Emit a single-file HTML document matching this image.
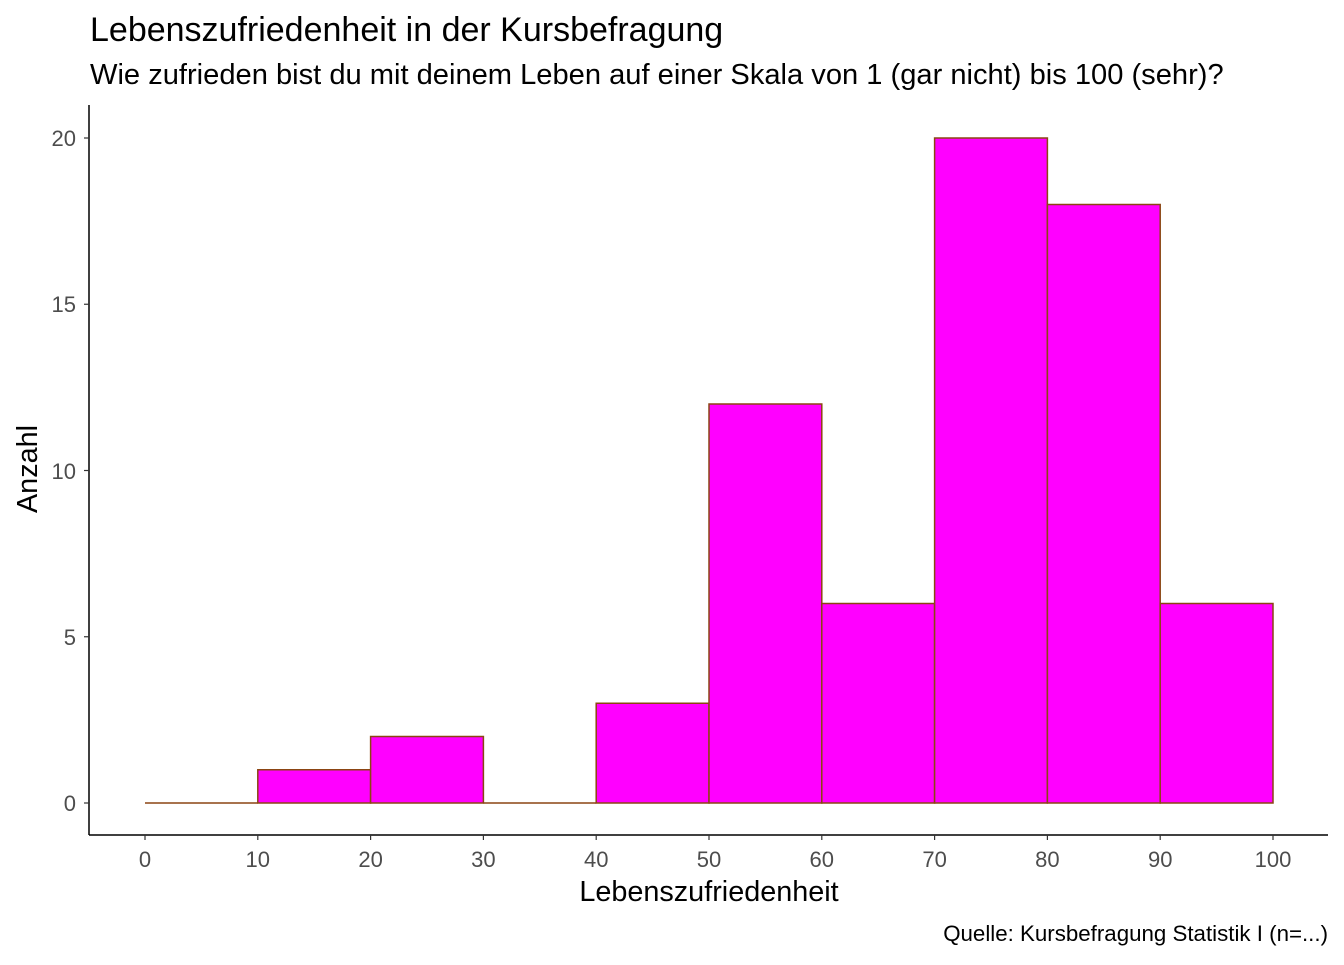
<!DOCTYPE html>
<html><head><meta charset="utf-8"><style>
body{margin:0;background:#fff}
svg text{font-family:"Liberation Sans",Arial,sans-serif}
</style></head><body>
<svg width="1344" height="960" xmlns="http://www.w3.org/2000/svg">
<rect width="1344" height="960" fill="#fff"/>
<text x="90" y="41" font-size="34" fill="#000">Lebenszufriedenheit in der Kursbefragung</text>
<text x="90" y="84" font-size="29.1" fill="#000">Wie zufrieden bist du mit deinem Leben auf einer Skala von 1 (gar nicht) bis 100 (sehr)?</text>
<g fill="#FF00FF" stroke="#8B4513" stroke-width="1.5">
<rect x="257.8" y="769.75" width="112.8" height="33.25"/>
<rect x="370.6" y="736.5" width="112.8" height="66.5"/>
<rect x="596.2" y="703.25" width="112.8" height="99.75"/>
<rect x="709" y="404" width="112.8" height="399"/>
<rect x="821.8" y="603.5" width="112.8" height="199.5"/>
<rect x="934.6" y="138" width="112.8" height="665"/>
<rect x="1047.4" y="204.5" width="112.8" height="598.5"/>
<rect x="1160.2" y="603.5" width="112.8" height="199.5"/>
<line x1="145" y1="803" x2="257.8" y2="803"/>
<line x1="483.4" y1="803" x2="596.2" y2="803"/>
</g>
<g stroke="#000" stroke-width="1.5" fill="none">
<line x1="89" y1="105" x2="89" y2="835"/>
<line x1="89" y1="835" x2="1328" y2="835"/>
</g>
<g stroke="#333" stroke-width="1.2">
<line x1="84" y1="803" x2="89" y2="803"/><line x1="84" y1="636.75" x2="89" y2="636.75"/>
<line x1="84" y1="470.5" x2="89" y2="470.5"/><line x1="84" y1="304.25" x2="89" y2="304.25"/>
<line x1="84" y1="138" x2="89" y2="138"/>
<line x1="145" y1="835" x2="145" y2="840"/><line x1="257.8" y1="835" x2="257.8" y2="840"/>
<line x1="370.6" y1="835" x2="370.6" y2="840"/><line x1="483.4" y1="835" x2="483.4" y2="840"/>
<line x1="596.2" y1="835" x2="596.2" y2="840"/><line x1="709" y1="835" x2="709" y2="840"/>
<line x1="821.8" y1="835" x2="821.8" y2="840"/><line x1="934.6" y1="835" x2="934.6" y2="840"/>
<line x1="1047.4" y1="835" x2="1047.4" y2="840"/><line x1="1160.2" y1="835" x2="1160.2" y2="840"/>
<line x1="1273" y1="835" x2="1273" y2="840"/>
</g>
<g font-size="22" fill="#4D4D4D" text-anchor="end">
<text x="76" y="811">0</text><text x="76" y="645">5</text><text x="76" y="479">10</text>
<text x="76" y="312">15</text><text x="76" y="146">20</text>
</g>
<g font-size="22" fill="#4D4D4D" text-anchor="middle">
<text x="145" y="867">0</text><text x="257.8" y="867">10</text><text x="370.6" y="867">20</text>
<text x="483.4" y="867">30</text><text x="596.2" y="867">40</text><text x="709" y="867">50</text>
<text x="821.8" y="867">60</text><text x="934.6" y="867">70</text><text x="1047.4" y="867">80</text>
<text x="1160.2" y="867">90</text><text x="1273" y="867">100</text>
</g>
<text x="709" y="901" font-size="28.8" text-anchor="middle" fill="#000">Lebenszufriedenheit</text>
<text transform="translate(37,469) rotate(-90)" font-size="28.8" text-anchor="middle" fill="#000">Anzahl</text>
<text x="1328" y="941" font-size="22.3" text-anchor="end" fill="#000">Quelle: Kursbefragung Statistik I (n=...)</text>
</svg>
</body></html>
